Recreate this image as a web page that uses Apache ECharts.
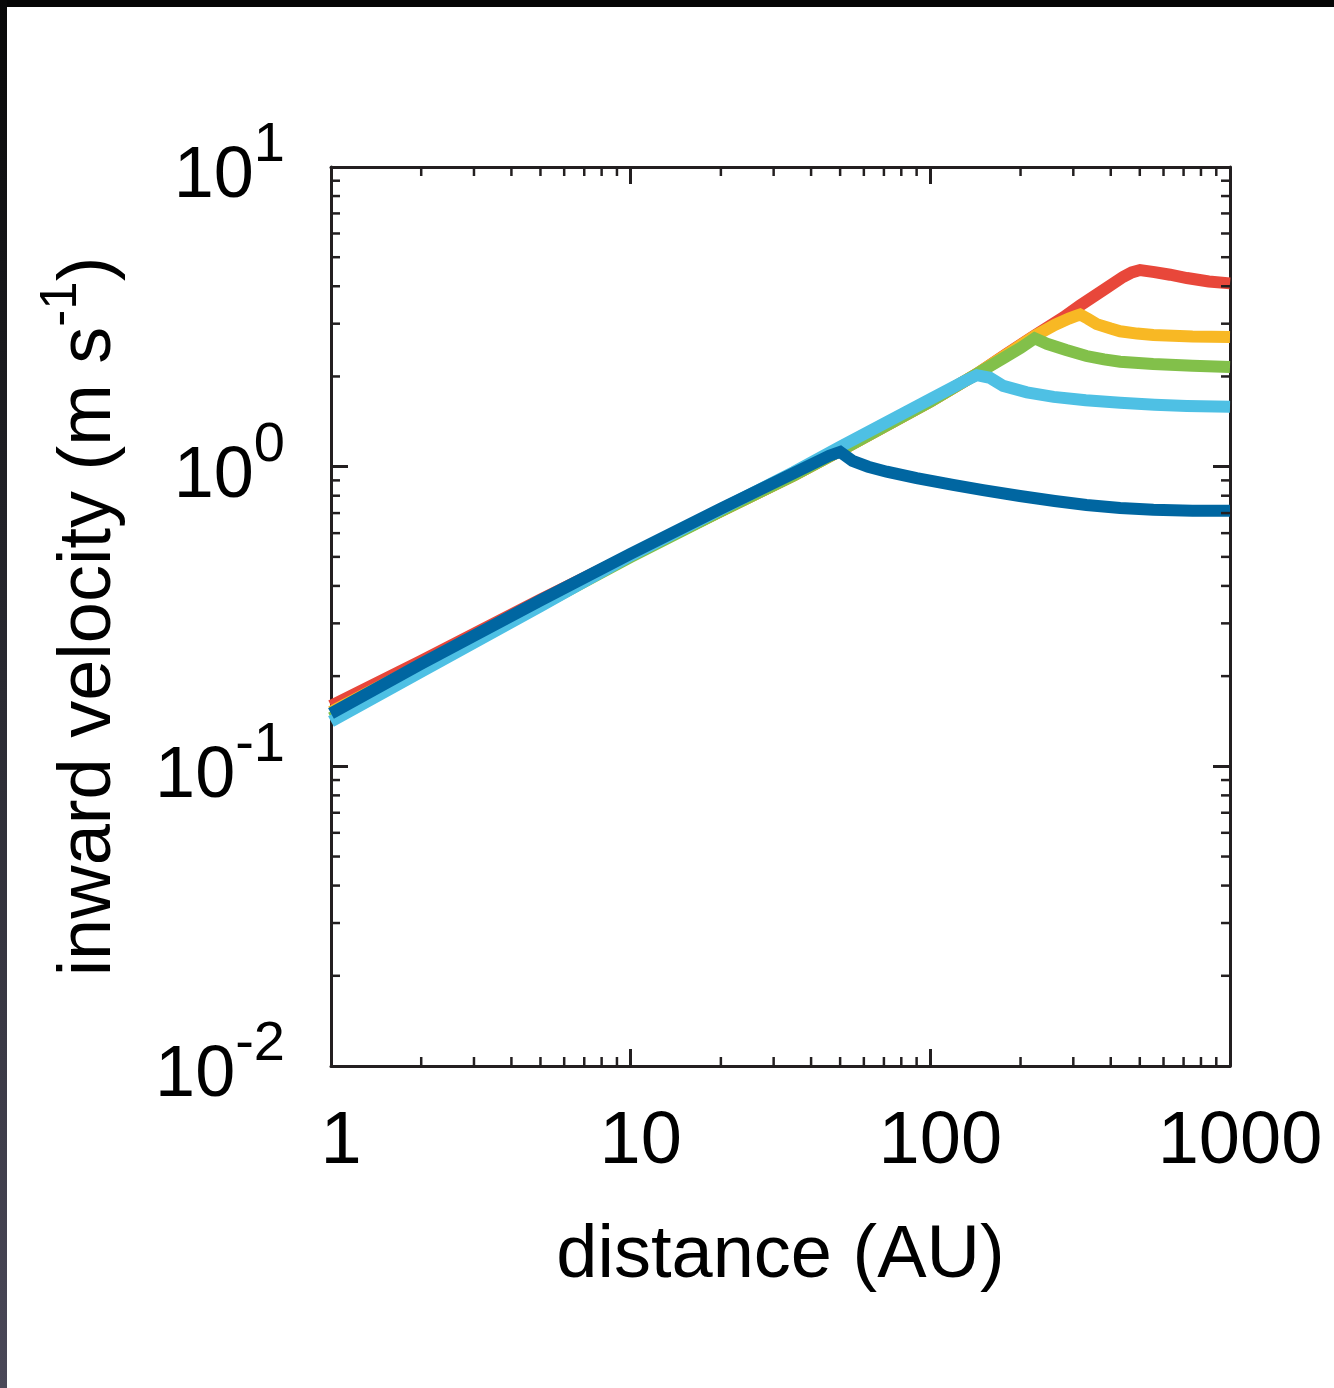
<!DOCTYPE html>
<html>
<head>
<meta charset="utf-8">
<script src="https://cdn.jsdelivr.net/npm/echarts@6/dist/echarts.min.js"></script>
<style>
html,body{margin:0;padding:0;background:#fff;}
#chart{width:1334px;height:1388px;}
</style>
</head>
<body>
<div id="chart"></div>
<script>
// ---- data ----
const xTickValues = [1, 10, 100, 1000];
const xTickLabels = ['1', '10', '100', '1000'];
const yTickValues = [0.01, 0.1, 1, 10];
const yTickExponents = ['-2', '-1', '0', '1'];
const xMinorTicks = [2,3,4,5,6,7,8,9,20,30,40,50,60,70,80,90,200,300,400,500,600,700,800,900];
const yMinorTicks = [0.02,0.03,0.04,0.05,0.06,0.07,0.08,0.09,0.2,0.3,0.4,0.5,0.6,0.7,0.8,0.9,2,3,4,5,6,7,8,9];

const xAxisName = 'distance (AU)';
const yAxisName = 'inward velocity (m s{s|-1})';

const redSeries = [[1,0.159],[2,0.225],[5,0.36],[10,0.508],[20,0.711],[35,0.935],[50,1.13],[100,1.65],[143,2.04],[180,2.38],[223,2.74],[278,3.15],[316,3.45],[387,3.95],[440,4.30],[470,4.45],[501,4.53],[560,4.46],[631,4.37],[718,4.26],[850,4.15],[1000,4.09]];
const orangeSeries = [[1,0.152],[2,0.218],[5,0.353],[10,0.505],[20,0.711],[35,0.935],[50,1.13],[100,1.65],[143,2.04],[180,2.37],[223,2.73],[260,2.97],[290,3.12],[305,3.18],[316,3.22],[335,3.12],[359,2.99],[400,2.89],[430,2.83],[490,2.78],[555,2.75],[750,2.72],[1000,2.71]];
const greenSeries = [[1,0.145],[2,0.21],[5,0.345],[10,0.5],[20,0.711],[35,0.935],[50,1.13],[100,1.65],[143,2.04],[175,2.30],[200,2.49],[223,2.68],[245,2.57],[284,2.45],[332,2.34],[380,2.28],[430,2.24],[554,2.20],[750,2.17],[1000,2.15]];
const lightBlueSeries = [[1,0.141],[2,0.207],[5,0.342],[10,0.505],[20,0.72],[35,0.96],[50,1.166],[100,1.68],[130,1.93],[143,2.02],[158,1.98],[175,1.86],[210,1.77],[258,1.71],[330,1.665],[430,1.635],[560,1.61],[718,1.595],[1000,1.585]];
const darkBlueSeries = [[1,0.150],[2,0.220],[5,0.358],[10,0.512],[20,0.724],[35,0.952],[46,1.088],[50,1.12],[55,1.045],[62,1.0],[71.5,0.962],[90,0.915],[119,0.869],[150,0.835],[199,0.798],[260,0.768],[332,0.745],[430,0.728],[555,0.718],[750,0.713],[1000,0.713]];

const seriesList = [
  {name:'red', data: redSeries, color:'#e8473a'},
  {name:'orange', data: orangeSeries, color:'#f8b824'},
  {name:'green', data: greenSeries, color:'#82c04a'},
  {name:'lightblue', data: lightBlueSeries, color:'#4ec0e4'},
  {name:'darkblue', data: darkBlueSeries, color:'#0066a1'}
];

// ---- chart ----
const AXIS_COLOR = '#231f20';
const FONT = '"Liberation Sans", Arial, Helvetica, sans-serif';
const X_MIN = 1, X_MAX = 1000, Y_MIN = 0.01, Y_MAX = 10;

const chart = echarts.init(document.getElementById('chart'));

function axisCommon() {
  return {
    type: 'log', logBase: 10,
    axisLine: {show: true, onZero: false, lineStyle: {color: AXIS_COLOR, width: 3}},
    axisTick: {show: true, inside: true, length: 17, lineStyle: {color: AXIS_COLOR, width: 3}},
    splitLine: {show: false},
    minorTick: {show: false}
  };
}

function nearestIndex(arr, v) {
  let best = 0, bd = Infinity;
  arr.forEach((a, i) => { const d = Math.abs(Math.log10(a) - Math.log10(v)); if (d < bd) { bd = d; best = i; } });
  return best;
}

const lineSeries = seriesList.map(s => ({
  type: 'line', name: s.name, data: s.data,
  xAxisIndex: 0, yAxisIndex: 0,
  showSymbol: false, symbol: 'none', smooth: false,
  lineStyle: {color: s.color, width: 12, join: 'miter', cap: 'butt'},
  itemStyle: {color: s.color},
  z: 2
}));

const minorStyle = {stroke: AXIS_COLOR, lineWidth: 2.5};
const MINOR_LEN = 9;

const xMinorSeries = {
  type: 'custom', xAxisIndex: 0, yAxisIndex: 0, silent: true, z: 5,
  data: xMinorTicks.map(v => [v, 1]),
  encode: {x: 0, y: 1},
  renderItem: function (params, api) {
    const v = api.value(0);
    const b = api.coord([v, Y_MIN]);
    const t = api.coord([v, Y_MAX]);
    return {type: 'group', children: [
      {type: 'line', shape: {x1: b[0], y1: b[1], x2: b[0], y2: b[1] - MINOR_LEN}, style: minorStyle},
      {type: 'line', shape: {x1: t[0], y1: t[1], x2: t[0], y2: t[1] + MINOR_LEN}, style: minorStyle}
    ]};
  }
};
const yMinorSeries = {
  type: 'custom', xAxisIndex: 0, yAxisIndex: 0, silent: true, z: 5,
  data: yMinorTicks.map(v => [10, v]),
  encode: {x: 0, y: 1},
  renderItem: function (params, api) {
    const v = api.value(1);
    const l = api.coord([X_MIN, v]);
    const r = api.coord([X_MAX, v]);
    return {type: 'group', children: [
      {type: 'line', shape: {x1: l[0], y1: l[1], x2: l[0] + MINOR_LEN, y2: l[1]}, style: minorStyle},
      {type: 'line', shape: {x1: r[0], y1: r[1], x2: r[0] - MINOR_LEN, y2: r[1]}, style: minorStyle}
    ]};
  }
};

const option = {
  backgroundColor: '#ffffff',
  animation: false,
  grid: {left: 331, top: 167, width: 899, height: 899, containLabel: false},
  xAxis: [
    Object.assign(axisCommon(), {
      position: 'bottom', min: X_MIN, max: X_MAX,
      name: xAxisName, nameLocation: 'middle', nameGap: 154,
      nameTextStyle: {fontSize: 74, color: '#000', fontFamily: FONT},
      axisLabel: {
        show: true, margin: 40, fontSize: 74, color: '#000', fontFamily: FONT,
        padding: [0, 0, 0, 20],
        formatter: function (value) { return xTickLabels[nearestIndex(xTickValues, value)]; }
      }
    }),
    Object.assign(axisCommon(), {
      position: 'top', min: X_MIN, max: X_MAX, axisLabel: {show: false}
    })
  ],
  yAxis: [
    Object.assign(axisCommon(), {
      position: 'left', min: Y_MIN, max: Y_MAX,
      name: yAxisName, nameLocation: 'middle', nameGap: 188, nameRotate: 90,
      nameTextStyle: {
        fontSize: 74, color: '#000', fontFamily: FONT,
        rich: {s: {fontSize: 51, color: '#000', fontFamily: FONT, padding: [0, 0, 56, 0]}}
      },
      axisLabel: {
        show: true, margin: 46, color: '#000', fontFamily: FONT,
        padding: [21, 0, 0, 0],
        formatter: function (value) {
          return '{m|10}{s|' + yTickExponents[nearestIndex(yTickValues, value)] + '}';
        },
        rich: {
          m: {fontSize: 72, color: '#000', fontFamily: FONT},
          s: {fontSize: 56, color: '#000', fontFamily: FONT, padding: [0, 0, 63, 0]}
        }
      }
    }),
    Object.assign(axisCommon(), {
      position: 'right', min: Y_MIN, max: Y_MAX, axisLabel: {show: false}
    })
  ],
  graphic: [
    {type: 'rect', left: 0, top: 0, z: 100, shape: {width: 1334, height: 7}, style: {fill: '#050505'}},
    {type: 'rect', left: 0, top: 0, z: 100, shape: {width: 7, height: 1388},
     style: {fill: new echarts.graphic.LinearGradient(0, 0, 0, 1, [
       {offset: 0, color: '#080808'}, {offset: 0.5, color: '#2a2a32'}, {offset: 1, color: '#4a4858'}])}}
  ],
  series: lineSeries.concat([xMinorSeries, yMinorSeries])
};

chart.setOption(option);
</script>
</body>
</html>
